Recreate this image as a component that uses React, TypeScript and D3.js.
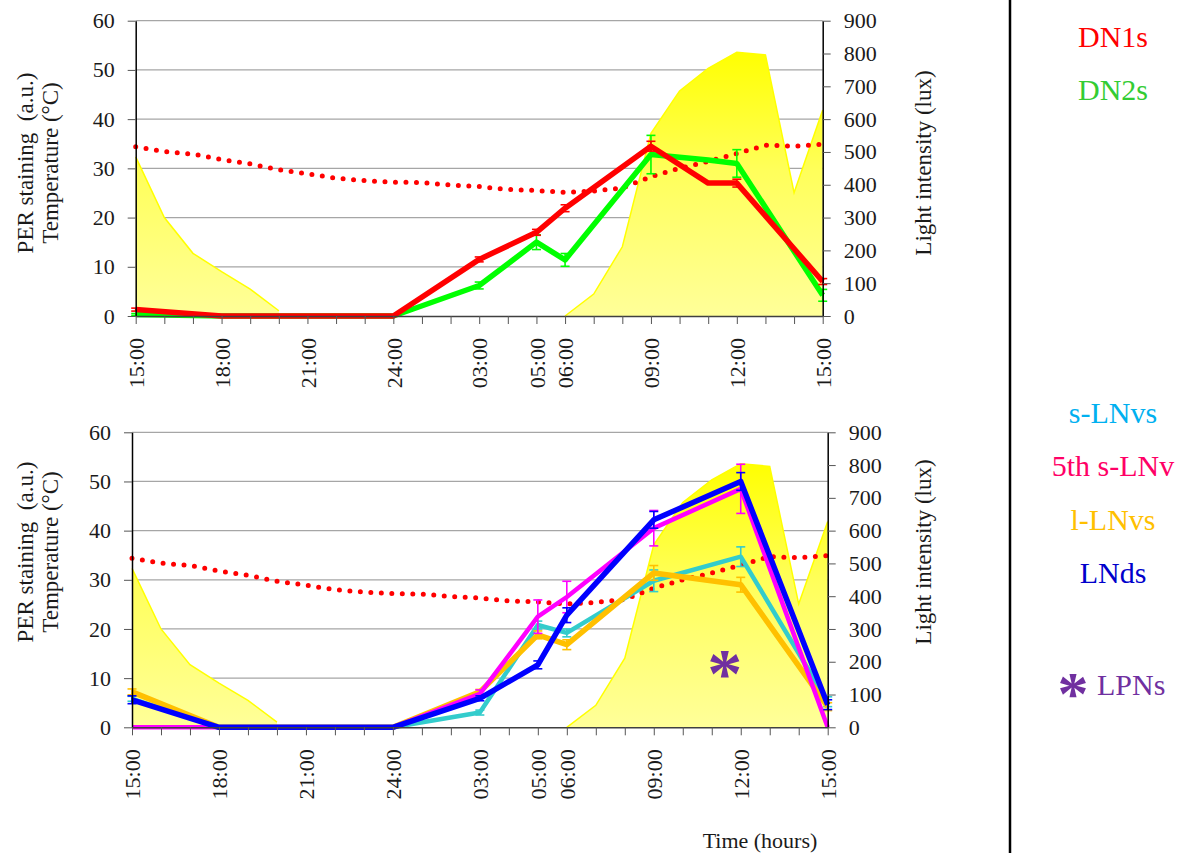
import { useEffect, useRef } from 'react';
import * as d3 from 'd3';

const W = 1181;
const H = 853;
const FONT = "'Liberation Serif', 'DejaVu Serif', serif";

// x is hours elapsed since 15:00 on the first day
const tickHours = [0, 3, 6, 9, 12, 14, 15, 18, 21, 24];
const tickLabels = ['15:00', '18:00', '21:00', '24:00', '03:00', '05:00', '06:00', '09:00', '12:00', '15:00'];

// hourly light / temperature records, shared by both panels
const recordHours = [0, 1, 2, 3, 4, 5, 6, 7, 8, 9, 10, 11, 12, 13, 14, 15, 16, 17, 18, 19, 20, 21, 22, 23, 24];
const lightLux = [485, 300, 191, 135, 82, 16, null, null, null, null, null, null, null, null, null,
  0, 67, 211, 557, 686, 755, 804, 796, 376, 628];
const temperature = [34.4, 33.4, 32.9, 31.8, 30.9, 29.7, 28.9, 28.0, 27.5, 27.2, 27.1, 26.6, 26.3,
  25.7, 25.5, 25.1, 25.4, 26.0, 28.3, 30.0, 31.4, 33.0, 34.7, 34.5, 34.9];

// dorsal neurons (upper panel)
const dnHours = [0, 3, 6, 9, 12, 14, 15, 18, 20, 21, 24];
const dn1Values = [1.3, 0, 0, 0, 11.5, 17.0, 21.9, 34.5, 27.0, 27.0, 7.0];
const dn1Errors = [0.3, 0, 0, 0, 0.5, 0.6, 0.7, 1.0, null, 0.8, 0.6];
const dn2Values = [0.3, 0, 0, 0, 6.2, 15.0, 11.4, 32.8, 31.7, 31.0, 4.2];
const dn2Errors = [0.2, 0, 0, 0, 0.7, 1.5, 1.3, 3.9, null, 2.8, 1.2];

// lateral neurons (lower panel)
const lnHours = [0, 3, 6, 9, 12, 14, 15, 18, 21, 24];
const sLNvValues = [5.8, 0, 0, 0, 3.0, 20.8, 19.2, 29.8, 34.7, 5.2];
const sLNvErrors = [0.5, 0, 0, 0, 0.5, 0.8, 0.8, 2.2, 2.0, 1.0];
const fifthValues = [0, 0, 0, 0, 6.8, 22.5, 26.5, 40.5, 48.5, 0];
const fifthErrors = [0, 0, 0, 0, 0.8, 3.4, 3.2, 3.6, 5.0, 0];
const lLNvValues = [7.2, 0, 0, 0, 7.2, 18.8, 16.8, 31.4, 29.0, 4.2];
const lLNvErrors = [0.6, 0, 0, 0, 0.5, 0.8, 1.0, 1.5, 1.5, 0.8];
const lndValues = [5.6, 0, 0, 0, 5.9, 12.7, 22.8, 42.2, 50.0, 4.6];
const lndErrors = [0.8, 0, 0, 0, 0.5, 0.8, 1.5, 1.7, 1.8, 1.0];

const topLegend = ['DN1s', 'DN2s'];
const topLegendColors = ['#ff0000', '#33cc33'];
const bottomLegend = ['s-LNvs', '5th s-LNv', 'l-LNvs', 'LNds'];
const bottomLegendColors = ['#00b0f0', '#ff0066', '#ffc000', '#0000cc'];

const panels = [
  {
    id: 'dn', left: 135.7, right: 822.7, top: 20.7, bottom: 316, titleY: 163,
    series: [
      { hours: dnHours, values: dn2Values, errors: dn2Errors, color: '#00ff00', width: 5.5 },
      { hours: dnHours, values: dn1Values, errors: dn1Errors, color: '#ff0000', width: 5.5 },
    ],
  },
  {
    id: 'ln', left: 132, right: 827.7, top: 432.3, bottom: 727.3, titleY: 552,
    series: [
      { hours: lnHours, values: sLNvValues, errors: sLNvErrors, color: '#33cccc', width: 4.5 },
      { hours: lnHours, values: lLNvValues, errors: lLNvErrors, color: '#ffc000', width: 5.5 },
      { hours: lnHours, values: fifthValues, errors: fifthErrors, color: '#ff00ff', width: 4.5 },
      { hours: lnHours, values: lndValues, errors: lndErrors, color: '#0000ff', width: 5.5 },
    ],
  },
];

export default function App() {
  const svgRef = useRef(null);

  useEffect(() => {
    const svg = d3.select(svgRef.current);
    svg.selectAll('*').remove();
    const defs = svg.append('defs');

    panels.forEach(p => {
      const x = d3.scaleLinear().domain([0, 24]).range([p.left, p.right]);
      const y = d3.scaleLinear().domain([0, 60]).range([p.bottom, p.top]);
      const yLux = d3.scaleLinear().domain([0, 900]).range([p.bottom, p.top]);
      const g = svg.append('g');

      const grad = defs.append('linearGradient')
        .attr('id', `sun-${p.id}`)
        .attr('gradientUnits', 'userSpaceOnUse')
        .attr('x1', 0).attr('x2', 0)
        .attr('y1', yLux(810)).attr('y2', yLux(0));
      grad.append('stop').attr('offset', '0%').attr('stop-color', '#ffff00');
      grad.append('stop').attr('offset', '45%').attr('stop-color', '#ffff5a');
      grad.append('stop').attr('offset', '100%').attr('stop-color', '#ffff99');

      // gridlines
      g.append('g').selectAll('line')
        .data(y.ticks(6).filter(v => v > 0))
        .join('line')
        .attr('x1', p.left).attr('x2', p.right)
        .attr('y1', d => y(d)).attr('y2', d => y(d))
        .attr('stroke', '#a6a6a6').attr('stroke-width', 1.3);

      // light intensity (secondary axis)
      const light = recordHours.map((h, i) => ({ h, v: lightLux[i] }));
      g.append('path').datum(light)
        .attr('d', d3.area().defined(d => d.v != null).x(d => x(d.h)).y0(p.bottom).y1(d => yLux(d.v)))
        .attr('fill', `url(#sun-${p.id})`);
      g.append('path').datum(light)
        .attr('d', d3.line().defined(d => d.v != null).x(d => x(d.h)).y(d => yLux(d.v)))
        .attr('fill', 'none').attr('stroke', '#ffff00').attr('stroke-width', 1.5);

      // temperature, dotted
      const temp = recordHours.map((h, i) => ({ h, v: temperature[i] }));
      g.append('path').datum(temp)
        .attr('d', d3.line().x(d => x(d.h)).y(d => y(d.v)))
        .attr('fill', 'none').attr('stroke', '#ff0000')
        .attr('stroke-width', 5).attr('stroke-linecap', 'round')
        .attr('stroke-dasharray', '0 10.5');

      // PER staining series with error bars
      p.series.forEach(s => {
        const pts = s.hours.map((h, i) => ({ h, v: s.values[i], e: s.errors[i] }));
        const eb = g.append('g').attr('stroke', s.color).attr('stroke-width', 1.6);
        pts.filter(d => d.e).forEach(d => {
          const cx = x(d.h);
          const hi = y(d.v + d.e);
          const lo = y(Math.max(0, d.v - d.e));
          eb.append('line').attr('x1', cx).attr('x2', cx).attr('y1', hi).attr('y2', lo);
          eb.append('line').attr('x1', cx - 4.5).attr('x2', cx + 4.5).attr('y1', hi).attr('y2', hi);
          eb.append('line').attr('x1', cx - 4.5).attr('x2', cx + 4.5).attr('y1', lo).attr('y2', lo);
        });
        g.append('path').datum(pts)
          .attr('d', d3.line().x(d => x(d.h)).y(d => y(d.v)))
          .attr('fill', 'none').attr('stroke', s.color)
          .attr('stroke-width', s.width).attr('stroke-linejoin', 'round');
      });

      // axes
      const axL = g.append('g')
        .attr('transform', `translate(${p.left},0)`)
        .call(d3.axisLeft(y).ticks(6).tickSize(8).tickSizeOuter(0).tickPadding(13));
      const axR = g.append('g')
        .attr('transform', `translate(${p.right},0)`)
        .call(d3.axisRight(yLux).ticks(9).tickSize(8).tickSizeOuter(0).tickPadding(13));
      const axB = g.append('g')
        .attr('transform', `translate(0,${p.bottom})`)
        .call(d3.axisBottom(x).tickValues(recordHours).tickSize(8).tickSizeOuter(0)
          .tickFormat(h => {
            const i = tickHours.indexOf(h);
            return i >= 0 ? tickLabels[i] : '';
          }));

      [axL, axR, axB].forEach(ax => {
        ax.attr('font-family', null).attr('font-size', null);
        ax.selectAll('text').style('font-family', FONT).style('font-size', '22px').attr('fill', '#1a1a1a');
        ax.selectAll('.tick line').attr('stroke', '#555');
      });
      axL.select('.domain').attr('stroke', '#000').attr('stroke-width', 1.5);
      axR.select('.domain').attr('stroke', '#000').attr('stroke-width', 1.5);
      axB.select('.domain').attr('stroke', '#404040').attr('stroke-width', 1.5);
      axB.selectAll('text')
        .attr('transform', 'rotate(-90)')
        .attr('text-anchor', 'end')
        .attr('x', -22).attr('y', 0).attr('dy', '0.35em');

      // axis titles
      const title = (tx, label) => svg.append('text')
        .attr('transform', `translate(${tx},${p.titleY}) rotate(-90)`)
        .attr('text-anchor', 'middle').attr('dominant-baseline', 'central')
        .style('white-space', 'pre')
        .style('font-family', FONT).style('font-size', '23px').attr('fill', '#1a1a1a')
        .text(label);
      title(25, 'PER staining  (a.u.)');
      title(50, 'Temperature (°C)');
      title(923, 'Light intensity (lux)');

      if (p.id === 'ln') {
        // LPN marker
        svg.append('text')
          .attr('x', x(20.45)).attr('y', y(0) - 30)
          .attr('text-anchor', 'middle')
          .style('font-family', FONT).style('font-size', '70px').style('font-weight', 'bold')
          .attr('fill', '#7030a0')
          .text('*');
      }
    });

    svg.append('text')
      .attr('x', 760).attr('y', 848)
      .attr('text-anchor', 'middle')
      .style('font-family', FONT).style('font-size', '22px').attr('fill', '#1a1a1a')
      .text('Time (hours)');

    // divider + legend
    svg.append('line')
      .attr('x1', 1010).attr('x2', 1010).attr('y1', 0).attr('y2', H)
      .attr('stroke', '#000').attr('stroke-width', 2.5);

    const legendG = svg.append('g').attr('text-anchor', 'middle');
    const legendText = (lx, ly, label, color) => legendG.append('text')
      .attr('x', lx).attr('y', ly)
      .style('font-family', FONT).style('font-size', '30px')
      .attr('fill', color).text(label);
    topLegend.forEach((t, i) => legendText(1113, 47 + i * 53, t, topLegendColors[i]));
    bottomLegend.forEach((t, i) => legendText(1113, 423 + i * 53.3, t, bottomLegendColors[i]));
    legendText(1073, 714, '*', '#7030a0').style('font-size', '62px').style('font-weight', 'bold');
    legendText(1097, 695, 'LPNs', '#7030a0').attr('text-anchor', 'start');
  }, []);

  return (
    <svg
      ref={svgRef}
      width={W}
      height={H}
      style={{ position: 'absolute', left: 0, top: 0, background: '#fff', fontFamily: FONT }}
    />
  );
}
